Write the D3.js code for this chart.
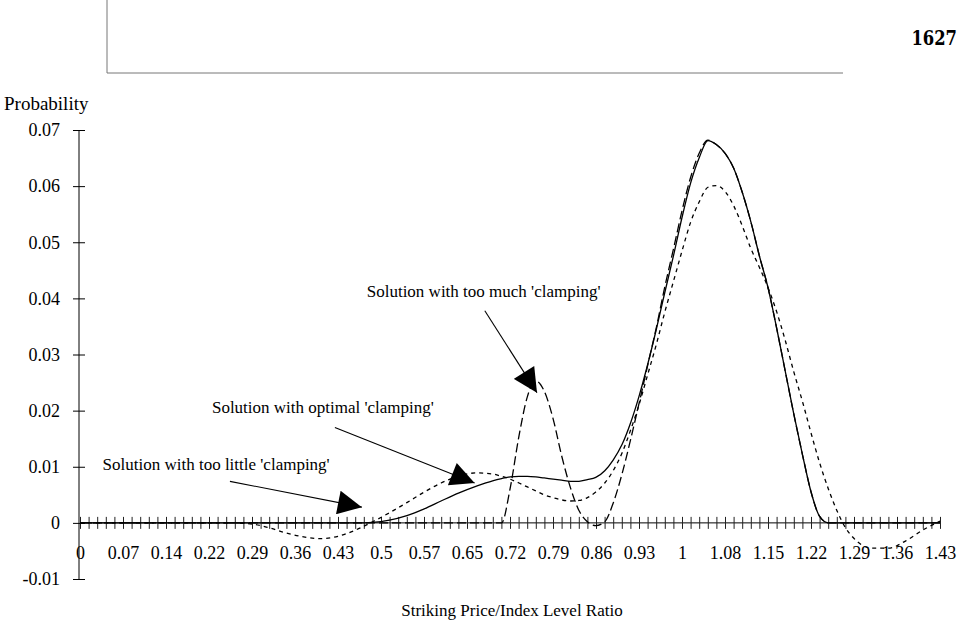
<!DOCTYPE html>
<html>
<head>
<meta charset="utf-8">
<script src="https://cdn.jsdelivr.net/npm/d3@7"></script>
<style>
  body { margin: 0; background: #fff; }
  text { font-family: "Liberation Serif", "Times New Roman", serif; fill: #000; }
</style>
</head>
<body>
<div id="vis"></div>
<script>
const W = 959, H = 643;

// shared ratio grid (striking price / index level)
const ratioGrid = [0, 0.072, 0.143, 0.215, 0.251, 0.287, 0.316, 0.344, 0.373, 0.402, 0.43, 0.459, 0.488, 0.516,
  0.545, 0.574, 0.602, 0.631, 0.66, 0.688, 0.703, 0.717, 0.732, 0.746, 0.76, 0.774, 0.789, 0.803, 0.818, 0.832,
  0.846, 0.86, 0.875, 0.889, 0.904, 0.918, 0.932, 0.946, 0.961, 0.975, 0.99, 1.004, 1.018, 1.033, 1.047, 1.061,
  1.076, 1.09, 1.104, 1.119, 1.133, 1.147, 1.162, 1.176, 1.19, 1.205, 1.219, 1.233, 1.248, 1.262, 1.276, 1.29,
  1.319, 1.348, 1.377, 1.405, 1.434]

const optimalClamp = [0, 0, 0, 0, 0, 0, 0, 0, 0, 0, 0, 0, 0.0001, 0.0005,
  0.0013, 0.0025, 0.0039, 0.0053, 0.0065, 0.0075, 0.0079, 0.0082, 0.0083, 0.0083, 0.0082, 0.008, 0.0078, 0.0076, 0.0074, 0.0074,
  0.0077, 0.0081, 0.0093, 0.0112, 0.014, 0.0178, 0.0225, 0.028, 0.0345, 0.041, 0.0478, 0.0545, 0.0605, 0.0652, 0.0681, 0.0674,
  0.0658, 0.0632, 0.059, 0.0535, 0.0475, 0.042, 0.0345, 0.027, 0.0195, 0.012, 0.0055, 0.0012, 0, 0, 0, 0,
  0, 0, 0, 0, 0]

const muchClamp = [0, 0, 0, 0, 0, 0, 0, 0, 0, 0, 0, 0, 0, 0,
  0, 0, 0, 0, 0, 0, 0, 0.006, 0.0155, 0.0225, 0.0253, 0.0235, 0.0185, 0.012, 0.0062, 0.0022,
  0.0002, -0.0005, 0.0002, 0.0035, 0.0088, 0.0148, 0.0212, 0.0278, 0.0348, 0.042, 0.049, 0.0557, 0.0615, 0.066, 0.0682, 0.0674,
  0.0658, 0.0632, 0.059, 0.0535, 0.0475, 0.042, 0.0345, 0.027, 0.0195, 0.012, 0.0055, 0.0012, 0, 0, 0, 0,
  0, 0, 0, 0, 0]

const littleClamp = [0, 0, 0, 0, 0, -0.0002, -0.0009, -0.0018, -0.0025, -0.0028, -0.0024, -0.0013, 0.0002, 0.0018,
  0.0036, 0.0055, 0.0071, 0.0083, 0.0089, 0.0087, 0.0083, 0.0078, 0.0071, 0.0064, 0.0057, 0.005, 0.0045, 0.0041, 0.0039, 0.004,
  0.0045, 0.0055, 0.0071, 0.0093, 0.0125, 0.0165, 0.021, 0.0262, 0.0318, 0.0375, 0.0432, 0.0485, 0.0535, 0.0573, 0.0598, 0.0601,
  0.059, 0.0565, 0.053, 0.0488, 0.0455, 0.042, 0.0375, 0.0325, 0.027, 0.0215, 0.016, 0.0108, 0.006, 0.0022, -0.0008, -0.0027,
  -0.0045, -0.0045, -0.0032, -0.0013, 0.0003]

const xLabels = ['0', '0.07', '0.14', '0.22', '0.29', '0.36', '0.43', '0.5', '0.57', '0.65', '0.72',
  '0.79', '0.86', '0.93', '1', '1.08', '1.15', '1.22', '1.29', '1.36', '1.43']
const yTicks = [-0.01, 0, 0.01, 0.02, 0.03, 0.04, 0.05, 0.06, 0.07]
const yLabels = ['-0.01', '0', '0.01', '0.02', '0.03', '0.04', '0.05', '0.06', '0.07']

const labelStep = 0.0717   // ratio between two labelled categories
const catsPerLabel = 5

const series = [
  { name: 'optimal', values: optimalClamp, dash: null },
  { name: 'much', values: muchClamp, dash: '9,4' },
  { name: 'little', values: littleClamp, dash: '4,4' }
]

// annotation text and arrow, in chart units
const notes = [
  { text: "Solution with too much 'clamping'", at: [0.673, 0.0403], from: [0.675, 0.0378], to: [0.762, 0.0232] },
  { text: "Solution with optimal 'clamping'", at: [0.405, 0.0195], from: [0.425, 0.017], to: [0.658, 0.0071] },
  { text: "Solution with too little 'clamping'", at: [0.227, 0.0095], from: [0.25, 0.0074], to: [0.47, 0.0028] }
]

const svg = d3.select('#vis')
  .append('svg')
  .attr('width', W)
  .attr('height', H)

const xMax = labelStep * (xLabels.length - 1)
const xScale = d3.scaleLinear().domain([0, xMax]).range([80, 940])
const yScale = d3.scaleLinear().domain([-0.01, 0.07]).range([579, 130])

function drawHeader(){
  svg.append('line')
    .attr('x1', 107).attr('x2', 107).attr('y1', 0).attr('y2', 73)
    .style('stroke', '#777').style('stroke-width', 1)
  svg.append('line')
    .attr('x1', 107).attr('x2', 843).attr('y1', 73).attr('y2', 73)
    .style('stroke', '#777').style('stroke-width', 1)
  svg.append('text')
    .attr('x', 957).attr('y', 45)
    .attr('text-anchor', 'end')
    .style('font-family', '"DejaVu Serif", serif')
    .style('font-size', '21px')
    .style('font-weight', 'bold')
    .attr('transform', 'translate(957,0) scale(0.78,1) translate(-957,0)')
    .text('1627')
}

function drawAxes(){
  // y axis, ticks cross the line
  const yAxis = d3.axisLeft(yScale)
    .tickValues(yTicks)
    .tickSize(6)
    .tickPadding(13)
    .tickFormat((d, i) => yLabels[i])

  const gy = svg.append('g')
    .attr('transform', `translate(${xScale(0) - 1},0)`)
    .call(yAxis)
  gy.select('.domain').remove()
  gy.append('line')
    .attr('y1', yScale(0.07)).attr('y2', yScale(-0.01))
    .style('stroke', '#000')
  gy.selectAll('.tick line').attr('x1', 6).attr('x2', -6)
  gy.selectAll('.tick text')
    .style('font-family', '"Liberation Serif", serif')
    .style('font-size', '18px')
    .style('fill', '#000')

  // zero line with minor category ticks
  const catStep = labelStep / catsPerLabel
  const catValues = d3.range(0, (xLabels.length - 1) * catsPerLabel + 1).map(i => i * catStep)

  svg.append('line')
    .attr('x1', xScale(0)).attr('x2', xScale(xMax))
    .attr('y1', yScale(0)).attr('y2', yScale(0))
    .style('stroke', '#000')

  const minor = d3.axisBottom(xScale)
    .tickValues(catValues)
    .tickSize(12)
    .tickFormat('')
  const gm = svg.append('g')
    .attr('transform', `translate(0,${yScale(0) - 6})`)
    .call(minor)
  gm.select('.domain').remove()
  gm.selectAll('.tick line').style('stroke', '#222')

  // category labels
  const xAxis = d3.axisBottom(xScale)
    .tickValues(xLabels.map((d, i) => i * labelStep))
    .tickSize(0)
    .tickPadding(23)
    .tickFormat((d, i) => xLabels[i])
  const gx = svg.append('g')
    .attr('transform', `translate(0,${yScale(0)})`)
    .call(xAxis)
  gx.select('.domain').remove()
  gx.selectAll('.tick text')
    .style('font-family', '"Liberation Serif", serif')
    .style('font-size', '18px')
    .style('fill', '#000')

  svg.append('text')
    .attr('x', 4).attr('y', 110)
    .style('font-size', '19px')
    .text('Probability')

  svg.append('text')
    .attr('x', 512).attr('y', 616)
    .attr('text-anchor', 'middle')
    .style('font-size', '17px')
    .text('Striking Price/Index Level Ratio')
}

function drawLines(){
  const line = d3.line()
    .x((d, i) => xScale(ratioGrid[i]))
    .y(d => yScale(d))
    .curve(d3.curveMonotoneX)

  svg.selectAll('.curve')
    .data(series)
    .join('path')
    .attr('class', 'curve')
    .attr('d', d => line(d.values))
    .style('fill', 'none')
    .style('stroke', '#000')
    .style('stroke-width', 1.3)
    .style('stroke-dasharray', d => d.dash)
}

function drawNotes(){
  svg.append('defs').append('marker')
    .attr('id', 'head')
    .attr('viewBox', '0 0 10 10')
    .attr('refX', 10).attr('refY', 5)
    .attr('markerUnits', 'userSpaceOnUse')
    .attr('markerWidth', 26).attr('markerHeight', 24)
    .attr('orient', 'auto')
    .append('path')
    .attr('d', 'M0,0 L10,5 L0,10 Z')
    .style('fill', '#000')

  svg.selectAll('.noteLine')
    .data(notes)
    .join('line')
    .attr('class', 'noteLine')
    .attr('x1', d => xScale(d.from[0])).attr('y1', d => yScale(d.from[1]))
    .attr('x2', d => xScale(d.to[0])).attr('y2', d => yScale(d.to[1]))
    .style('stroke', '#000')
    .style('stroke-width', 1.1)
    .attr('marker-end', 'url(#head)')

  svg.selectAll('.noteText')
    .data(notes)
    .join('text')
    .attr('class', 'noteText')
    .attr('x', d => xScale(d.at[0]))
    .attr('y', d => yScale(d.at[1]))
    .attr('text-anchor', 'middle')
    .style('font-size', '17px')
    .text(d => d.text)
}

drawHeader()
drawAxes()
drawLines()
drawNotes()
</script>
</body>
</html>
